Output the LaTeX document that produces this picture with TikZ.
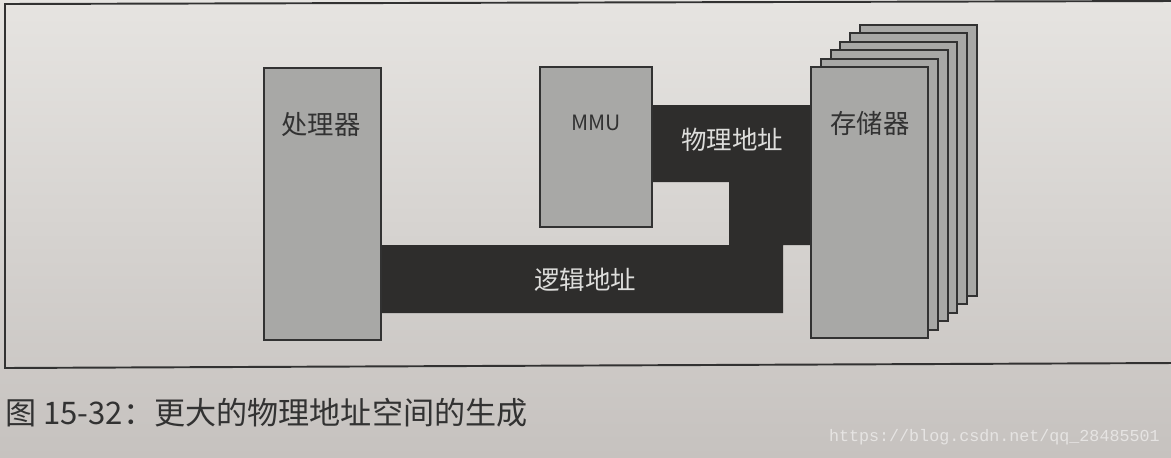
\documentclass[tikz,border=0pt]{standalone}
\usepackage{fontspec}
\newfontfamily\cjk{Noto Sans CJK SC}
\setmonofont{Liberation Mono}
\definecolor{paper}{RGB}{230,228,225}
\definecolor{paperdark}{RGB}{198,194,191}
\definecolor{boxgray}{RGB}{168,168,166}
\definecolor{bandgray}{RGB}{46,45,44}
\definecolor{ink}{RGB}{50,50,50}
\definecolor{bandtext}{RGB}{222,222,220}

\begin{document}
\begin{tikzpicture}[x=0.02cm, y=-0.02cm]
	\tikzstyle{unit}      = [rectangle, draw=ink, line width=1.1pt, fill=boxgray, inner sep=0pt]
	\tikzstyle{title}     = [font=\cjk\fontsize{15}{17}\selectfont, text=ink]
	\tikzstyle{band}      = [fill=bandgray]
	\tikzstyle{bandlabel} = [font=\cjk\fontsize{14.5}{16}\selectfont, text=bandtext]

	\useasboundingbox (0,0) rectangle (1171,457);
	\shade[top color=paper, bottom color=paperdark] (0,0) rectangle (1171,457);
	\draw[ink, line width=1.1pt] (1175,1) -- (5,4) -- (5,368) -- (1175,363);

	% units
	\node[unit, minimum width=2.34cm, minimum height=5.44cm] (cpu) at (322.5, 204) {};
	\node[unit, minimum width=2.24cm, minimum height=3.2cm] (mmu) at (596, 147) {};

	% address lines
	\fill[band] (mmu.east |- 0,105) -- (810,105) -- (810,245) -- (783,245) -- (783,313)
		-- (cpu.east |- 0,313) -- (cpu.east |- 0,245) -- (729,245) -- (729,182)
		-- (mmu.east |- 0,182) -- cycle;

	% memory banks, back to front
	\foreach \i in {5,...,1}
		\node[unit, minimum width=2.34cm, minimum height=5.42cm] (mem\i) at (869.5+9.8*\i, 202.5-8.4*\i) {};
	\node[unit, minimum width=2.34cm, minimum height=5.42cm] (mem) at (869.5, 202.5) {};

	\node[title] (cpulabel) at (321, 125) {处理器};
	\node[title, font=\cjk\fontsize{12}{14}\selectfont] (mmulabel) at (596, 123) {MMU};
	\node[title] (memlabel) at (870, 123) {存储器};
	\node[bandlabel] (phys) at (732, 140) {物理地址};
	\node[bandlabel] (logic) at (585, 280) {逻辑地址};

	\node[anchor=west, inner sep=0pt, font=\cjk\fontsize{17.7}{20}\selectfont, text=ink] (caption) at (5, 413) {图 15-32：更大的物理地址空间的生成};
	\node[anchor=east, inner sep=0pt, font=\ttfamily\fontsize{9.5}{11}\selectfont, text=white, opacity=0.55] (mark) at (1160, 437) {https://blog.csdn.net/qq\_28485501};
\end{tikzpicture}
\end{document}
